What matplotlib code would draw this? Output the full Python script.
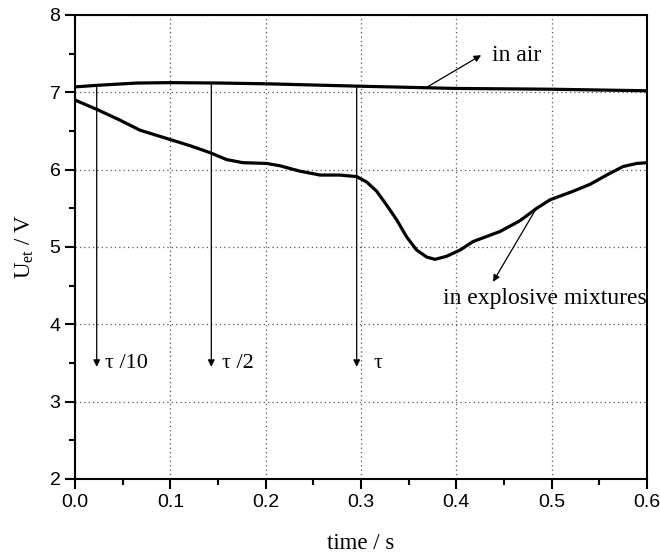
import matplotlib
matplotlib.use("Agg")
import matplotlib.pyplot as plt
import numpy as np
from matplotlib.ticker import MultipleLocator

air_t = [0.0, 0.0228, 0.065, 0.0997, 0.152, 0.2011, 0.2955, 0.4, 0.5, 0.6]
air_u = [7.07, 7.09, 7.12, 7.125, 7.12, 7.11, 7.08, 7.05, 7.04, 7.02]

mix_t = [0.0, 0.0228, 0.0472, 0.0682, 0.0892, 0.0997, 0.1206, 0.1416, 0.1591,
         0.1762, 0.2011, 0.2150, 0.2360, 0.2570, 0.2780, 0.2955, 0.3060,
         0.3165, 0.3270, 0.3375, 0.3479, 0.3584, 0.3689, 0.3776, 0.3899,
         0.4039, 0.4175, 0.4458, 0.4668, 0.4843, 0.4983, 0.5224, 0.5402,
         0.5577, 0.5748, 0.5892, 0.6]
mix_u = [6.90, 6.78, 6.64, 6.51, 6.43, 6.39, 6.31, 6.22, 6.13,
         6.09, 6.08, 6.05, 5.98, 5.93, 5.93, 5.91, 5.84,
         5.72, 5.54, 5.35, 5.13, 4.96, 4.87, 4.84, 4.88,
         4.96, 5.07, 5.20, 5.34, 5.50, 5.61, 5.72, 5.81,
         5.93, 6.04, 6.08, 6.09]

# characteristic times (vertical arrows) and their labels
tau_t = [0.0228, 0.143, 0.2955]
tau_labels = ["τ /10", "τ /2", "τ"]
tau_label_x = [0.0315, 0.154, 0.3126]
arrow_bottom = 3.45

SERIF = "Liberation Serif"
SANS = "Liberation Sans"
plt.rcParams["mathtext.fontset"] = "custom"
plt.rcParams["mathtext.rm"] = SERIF

fig = plt.figure(figsize=(6.6, 5.55), dpi=100)
ax = fig.add_axes([0.1136, 0.137, 0.8667, 0.836])

for t, u in [(air_t, air_u), (mix_t, mix_u)]:
    ax.plot(t, u, color="black", lw=2.3, solid_joinstyle="round",
            solid_capstyle="round")

arrow = dict(arrowstyle="-|>", color="black", lw=0.9, mutation_scale=10,
             shrinkA=0, shrinkB=0)
for t, lab, lx in zip(tau_t, tau_labels, tau_label_x):
    ax.annotate("", xy=(t, arrow_bottom), xytext=(t, np.interp(t, air_t, air_u)),
                arrowprops=arrow)
    ax.text(lx, 3.49, lab, fontsize=16, family=SERIF, va="center", ha="left")

ax.annotate("", xy=(0.426, 7.48), xytext=(0.369, 7.065), arrowprops=arrow)
ax.text(0.437, 7.48, "in air", fontsize=17, family=SERIF, va="center", ha="left")

ax.annotate("", xy=(0.4385, 4.55), xytext=(0.484, 5.50), arrowprops=arrow)
ax.text(0.386, 4.33, "in explosive mixtures", fontsize=17, family=SERIF,
        va="center", ha="left")

ax.set_xlim(0, 0.6)
ax.set_ylim(2, 8)
ax.xaxis.set_major_locator(MultipleLocator(0.1))
ax.xaxis.set_minor_locator(MultipleLocator(0.05))
ax.yaxis.set_major_locator(MultipleLocator(1))
ax.yaxis.set_minor_locator(MultipleLocator(0.5))
ax.set_xticks([0.0, 0.1, 0.2, 0.3, 0.4, 0.5, 0.6])
ax.set_xticklabels(["0.0", "0.1", "0.2", "0.3", "0.4", "0.5", "0.6"])
ax.tick_params(which="major", direction="out", length=7, width=1.5,
               labelsize=14, top=False, right=False)
ax.tick_params(which="minor", direction="out", length=4, width=1.5,
               top=False, right=False)
for lab in ax.get_xticklabels() + ax.get_yticklabels():
    lab.set_family(SANS)
for s in ax.spines.values():
    s.set_linewidth(1.5)

ax.grid(True, which="major", linestyle=(0, (1, 2.5)), color="#555555", lw=0.9)

ax.set_xlabel("time / s", fontsize=16.5, family=SERIF, labelpad=16)
ax.set_ylabel(r"U$_{\mathregular{et}}$ / V", fontsize=16.5, family=SERIF, labelpad=10)

fig.savefig("out.png", dpi=100)
